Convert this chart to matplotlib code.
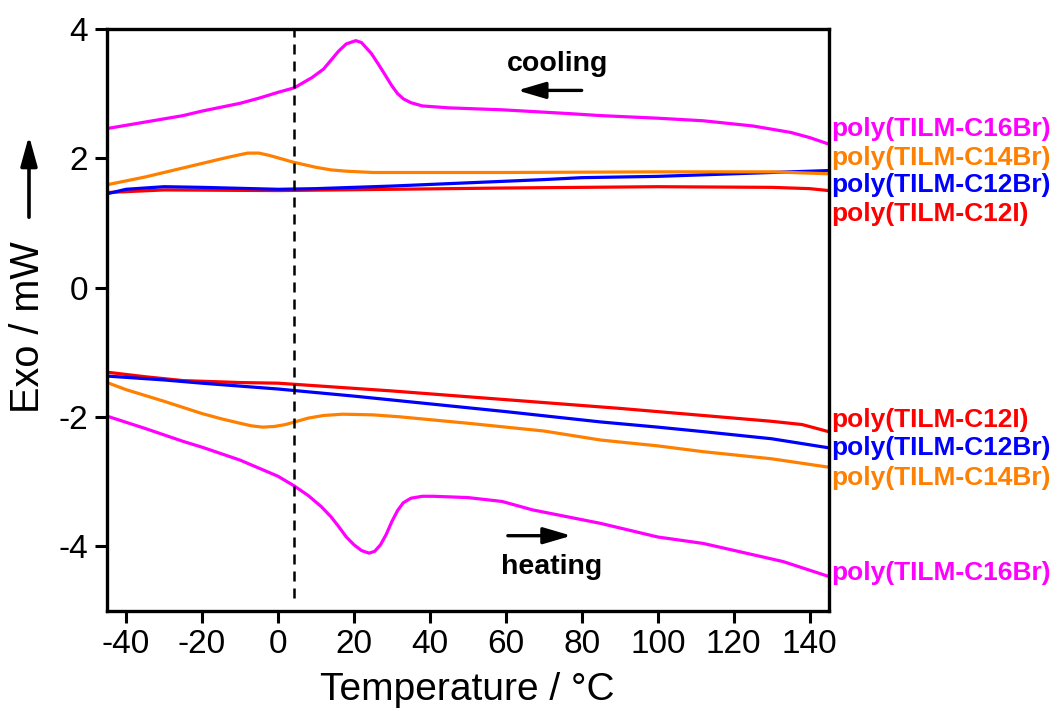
import numpy as np
import matplotlib.pyplot as plt
from matplotlib.patches import FancyArrowPatch

plt.rcParams['font.family'] = ['Liberation Sans', 'DejaVu Sans']
plt.rcParams['axes.unicode_minus'] = False

# cooling scans (upper set)
cool_c16_t = [-45, -35, -25, -20, -10, -5, 0, 4.3, 9, 12, 14, 16, 18, 20.5, 22, 24.6, 26.5, 28, 30, 31.5, 33, 35, 38, 45, 59, 77, 85, 100, 112, 125, 135, 140, 145]
cool_c16_q = [2.46, 2.56, 2.66, 2.73, 2.85, 2.93, 3.02, 3.09, 3.25, 3.38, 3.52, 3.66, 3.77, 3.82, 3.79, 3.62, 3.45, 3.31, 3.12, 3.0, 2.92, 2.86, 2.81, 2.78, 2.75, 2.69, 2.66, 2.62, 2.58, 2.5, 2.4, 2.32, 2.22]

cool_c14_t = [-45, -35, -25, -15, -12, -8, -5, -2, 1, 4, 7, 10, 14, 18, 25, 60, 100, 130, 145]
cool_c14_q = [1.59, 1.71, 1.85, 1.99, 2.03, 2.08, 2.08, 2.04, 1.99, 1.94, 1.90, 1.86, 1.82, 1.80, 1.78, 1.78, 1.79, 1.79, 1.76]

cool_c12br_t = [-45, -40, -30, -20, 0, 10, 20, 30, 50, 70, 80, 100, 120, 145]
cool_c12br_q = [1.45, 1.52, 1.56, 1.55, 1.52, 1.53, 1.55, 1.57, 1.62, 1.67, 1.70, 1.72, 1.76, 1.81]

cool_c12i_t = [-45, -30, 0, 30, 60, 100, 130, 140, 145]
cool_c12i_q = [1.47, 1.51, 1.50, 1.52, 1.54, 1.56, 1.55, 1.53, 1.50]

# heating scans (lower set)
heat_c12i_t = [-45, -35, -25, -10, 0, 10, 30, 50, 70, 90, 110, 130, 138, 145]
heat_c12i_q = [-1.31, -1.38, -1.44, -1.47, -1.48, -1.52, -1.60, -1.69, -1.78, -1.87, -1.97, -2.07, -2.12, -2.23]

heat_c12br_t = [-45, -30, -20, 0, 20, 40, 60, 85, 100, 112, 130, 145]
heat_c12br_q = [-1.37, -1.43, -1.48, -1.57, -1.68, -1.80, -1.92, -2.08, -2.16, -2.23, -2.34, -2.48]

heat_c14_t = [-45, -40, -30, -20, -15, -10, -7, -4, -1, 2, 5, 8, 12, 17, 25, 32, 50, 70, 85, 100, 112, 130, 145]
heat_c14_q = [-1.47, -1.58, -1.76, -1.95, -2.03, -2.10, -2.14, -2.16, -2.15, -2.12, -2.07, -2.02, -1.98, -1.96, -1.97, -2.0, -2.10, -2.22, -2.36, -2.45, -2.54, -2.65, -2.78]

heat_c16_t = [-45, -35, -25, -20, -10, 0, 4.3, 8, 11.4, 14, 16, 18, 20, 22, 24, 25.5, 27, 28.5, 30, 31.5, 33, 35, 38, 41, 50, 59, 67, 85, 100, 112, 133, 145]
heat_c16_q = [-1.99, -2.18, -2.38, -2.47, -2.67, -2.92, -3.07, -3.22, -3.39, -3.55, -3.70, -3.86, -3.98, -4.07, -4.11, -4.08, -3.98, -3.82, -3.62, -3.45, -3.33, -3.26, -3.23, -3.23, -3.25, -3.31, -3.44, -3.65, -3.86, -3.96, -4.24, -4.47]

c16_color = '#ff00ff'
c14_color = '#ff8000'
c12br_color = '#0000ff'
c12i_color = '#ff0000'

fig = plt.figure(figsize=(10.62, 7.11), dpi=100)
ax = fig.add_axes([0.1008, 0.1411, 0.6795, 0.8181])

lw = 2.3
ax.plot(cool_c12i_t, cool_c12i_q, color=c12i_color, lw=lw)
ax.plot(cool_c12br_t, cool_c12br_q, color=c12br_color, lw=lw)
ax.plot(cool_c14_t, cool_c14_q, color=c14_color, lw=lw)
ax.plot(cool_c16_t, cool_c16_q, color=c16_color, lw=lw)
ax.plot(heat_c12i_t, heat_c12i_q, color=c12i_color, lw=lw)
ax.plot(heat_c12br_t, heat_c12br_q, color=c12br_color, lw=lw)
ax.plot(heat_c14_t, heat_c14_q, color=c14_color, lw=lw)
ax.plot(heat_c16_t, heat_c16_q, color=c16_color, lw=lw)

ax.plot([4.3, 4.3], [-4.8, 4.0], color='black', lw=1.8, ls=(0, (4, 2.8)))

ax.set_xlim(-45, 145)
ax.set_ylim(-5, 4)
ax.set_xticks([-40, -20, 0, 20, 40, 60, 80, 100, 120, 140])
ax.set_yticks([-4, -2, 0, 2, 4])
ax.tick_params(direction='out', length=8.5, width=2.2, labelsize=24, pad=5)
for s in ax.spines.values():
    s.set_linewidth(2.4)

# curve labels on the right
labels_right = [
    ('poly(TILM-C16Br)', 2.46, c16_color),
    ('poly(TILM-C14Br)', 2.01, c14_color),
    ('poly(TILM-C12Br)', 1.58, c12br_color),
    ('poly(TILM-C12I)', 1.14, c12i_color),
    ('poly(TILM-C12I)', -2.05, c12i_color),
    ('poly(TILM-C12Br)', -2.49, c12br_color),
    ('poly(TILM-C14Br)', -2.95, c14_color),
    ('poly(TILM-C16Br)', -4.42, c16_color),
]
for txt, yv, col in labels_right:
    ax.text(1.004, yv, txt, transform=ax.get_yaxis_transform(), color=col,
            fontsize=19, fontweight='bold', va='center', ha='left', clip_on=False)

arrow_style = '-|>,head_length=0.85,head_width=0.25'
ax.text(73.5, 3.46, 'cooling', fontsize=20.5, fontweight='bold', ha='center', va='center')
ax.annotate('', xy=(62.3, 3.05), xytext=(80.7, 3.05),
            arrowprops=dict(arrowstyle=arrow_style, color='black', lw=2.4, mutation_scale=20))
ax.text(72, -4.32, 'heating', fontsize=20.5, fontweight='bold', ha='center', va='center')
ax.annotate('', xy=(78, -3.84), xytext=(59.8, -3.84),
            arrowprops=dict(arrowstyle=arrow_style, color='black', lw=2.4, mutation_scale=20))

fig.text(0.0259, 0.540, 'Exo / mW', rotation=90, fontsize=28.5, ha='center', va='center')
fig.patches.append(FancyArrowPatch(
    (0.0273, 1 - 220 / 711), (0.0273, 1 - 133 / 711), transform=fig.transFigure,
    arrowstyle='-|>,head_length=0.9,head_width=0.25', color='black', lw=2.6,
    mutation_scale=20))
fig.text(0.440, 0.016, 'Temperature / °C', fontsize=28, ha='center', va='baseline')

fig.savefig('out.png', dpi=100)
